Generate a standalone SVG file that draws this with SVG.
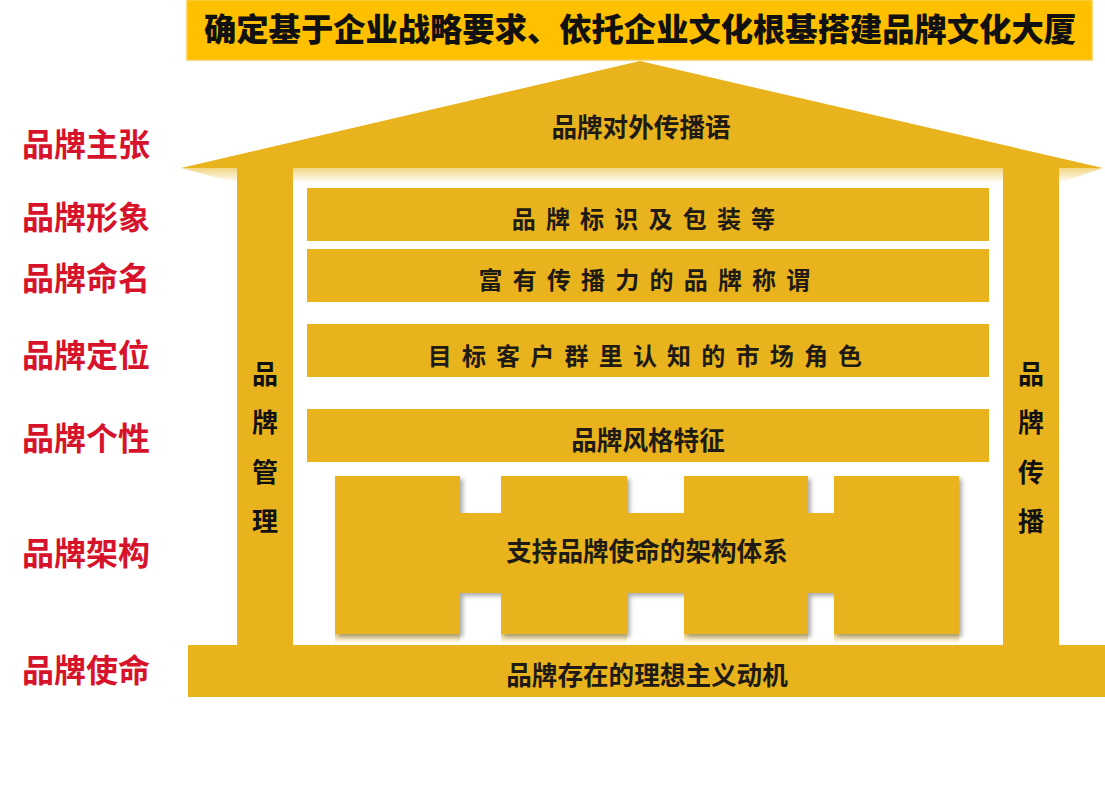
<svg xmlns="http://www.w3.org/2000/svg" width="1105" height="800" viewBox="0 0 1105 800">
<defs>
<style>
.gold{fill:#E8B31D;}
.lbl{font-family:"Noto Sans CJK SC","Noto Sans",sans-serif;font-weight:700;font-size:32px;fill:#D7132B;}
.bar{font-family:"Noto Sans CJK SC","Noto Sans",sans-serif;font-weight:700;font-size:24px;fill:#1E1A14;letter-spacing:10.2px;text-anchor:middle;}
.txt{font-family:"Noto Sans CJK SC","Noto Sans",sans-serif;font-weight:700;font-size:25.6px;fill:#1E1A14;text-anchor:middle;}
.pil{font-family:"Noto Sans CJK SC","Noto Sans",sans-serif;font-weight:700;font-size:26px;fill:#111;text-anchor:middle;}
.ttl{font-family:"Noto Sans CJK SC","Noto Sans",sans-serif;font-weight:900;font-size:32.3px;fill:#111;text-anchor:middle;}
</style>
<linearGradient id="refl" x1="0" y1="0" x2="0" y2="1">
<stop offset="0" stop-color="#E8B31D" stop-opacity="0.55"/>
<stop offset="1" stop-color="#E8B31D" stop-opacity="0"/>
</linearGradient>
<filter id="shadow" x="-5%" y="-5%" width="115%" height="115%">
<feDropShadow dx="3" dy="3" stdDeviation="2" flood-color="#6b6b6b" flood-opacity="0.55"/>
</filter>
</defs>

<g id="title">
<rect x="187" y="0" width="905" height="60" fill="#FFC000" stroke="#F7CD4F" stroke-width="1.5"/>
<text class="ttl" x="640" y="41">确定基于企业战略要求、依托企业文化根基搭建品牌文化大厦</text>
</g>

<g id="roof">
<polygon points="237,183 1059,183 1103,168 181,168" fill="url(#refl)"/>
<polygon class="gold" points="181,168 640,61 1103,168"/>
<text class="txt" x="641" y="137">品牌对外传播语</text>
</g>

<g id="pillar-left">
<rect class="gold" x="237" y="168" width="56" height="478"/>
<text class="pil" x="265" y="384">品</text>
<text class="pil" x="265" y="432">牌</text>
<text class="pil" x="265" y="482">管</text>
<text class="pil" x="265" y="531">理</text>
</g>

<g id="pillar-right">
<rect class="gold" x="1003" y="168" width="56" height="478"/>
<text class="pil" x="1031" y="384">品</text>
<text class="pil" x="1031" y="432">牌</text>
<text class="pil" x="1031" y="482">传</text>
<text class="pil" x="1031" y="531">播</text>
</g>

<g id="bar-identity">
<rect class="gold" x="307" y="188" width="682" height="53"/>
<text class="bar" x="648.5" y="228">品牌标识及包装等</text>
</g>

<g id="bar-naming">
<rect class="gold" x="307" y="249" width="682" height="53"/>
<text class="bar" x="649.5" y="289">富有传播力的品牌称谓</text>
</g>

<g id="bar-positioning">
<rect class="gold" x="307" y="324" width="682" height="53"/>
<text class="bar" x="650" y="365">目标客户群里认知的市场角色</text>
</g>

<g id="bar-personality">
<rect class="gold" x="307" y="409" width="682" height="53"/>
<text class="txt" x="648" y="450">品牌风格特征</text>
</g>

<g id="architecture">
<rect x="335" y="634" width="125" height="10" fill="url(#refl)"/>
<rect x="501" y="634" width="126" height="10" fill="url(#refl)"/>
<rect x="684" y="634" width="124" height="10" fill="url(#refl)"/>
<rect x="834" y="634" width="125" height="10" fill="url(#refl)"/>
<path class="gold" filter="url(#shadow)" d="M335,476 H460 V513 H501 V476 H627 V513 H684 V476 H808 V513 H834 V476 H959 V634 H834 V593 H808 V634 H684 V593 H627 V634 H501 V593 H460 V634 H335 Z"/>
<text class="txt" x="647" y="561">支持品牌使命的架构体系</text>
</g>

<g id="base">
<rect class="gold" x="188" y="645" width="917" height="52"/>
<text class="txt" x="647" y="685">品牌存在的理想主义动机</text>
</g>

<g id="labels">
<text class="lbl" x="22" y="156">品牌主张</text>
<text class="lbl" x="22" y="229">品牌形象</text>
<text class="lbl" x="22" y="290">品牌命名</text>
<text class="lbl" x="22" y="367">品牌定位</text>
<text class="lbl" x="22" y="450">品牌个性</text>
<text class="lbl" x="22" y="565">品牌架构</text>
<text class="lbl" x="22" y="682">品牌使命</text>
</g>

<g id="connectors"/>
</svg>
